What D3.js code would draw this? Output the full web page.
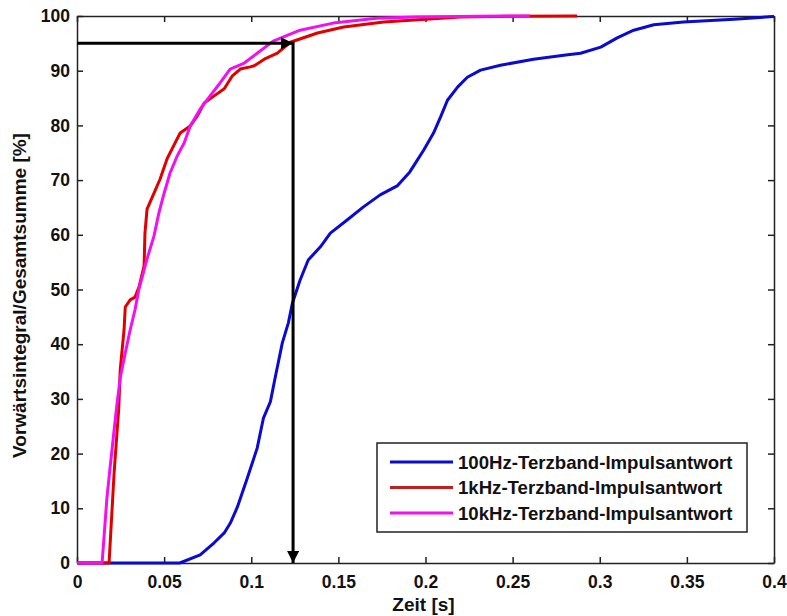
<!DOCTYPE html>
<html>
<head>
<meta charset="utf-8">
<script src="https://cdn.jsdelivr.net/npm/d3@7"></script>
<style>
    body { margin: 0; background: #fff; }
    #chart-area { width: 787px; height: 616px; }
    .axis text { font-family: "Liberation Sans", Arial, sans-serif; font-weight: bold; font-size: 17.5px; fill: #111; }
    .axis-label { font-family: "Liberation Sans", Arial, sans-serif; font-weight: bold; font-size: 19px; fill: #111; }
    .legend text { font-family: "Liberation Sans", Arial, sans-serif; font-weight: bold; font-size: 18.6px; fill: #111; }
</style>
</head>
<body>
<div id="chart-area"></div>
<script>

// x values (Zeit in s) and y values (% of total) per series
var blueTime = [0, 0.059, 0.0707, 0.0787, 0.0845, 0.088, 0.092, 0.0977, 0.1034, 0.107, 0.111, 0.1138, 0.1178, 0.1213,
    0.1236, 0.128, 0.1327, 0.1397, 0.1454, 0.155, 0.1644, 0.174, 0.184, 0.191, 0.1954, 0.199, 0.2046, 0.2086, 0.2126,
    0.2184, 0.224, 0.2316, 0.243, 0.262, 0.2816, 0.289, 0.3006, 0.31, 0.3195, 0.331, 0.348, 0.377, 0.4];
var blueValue = [0, 0, 1.5, 3.7, 5.5, 7.3, 10.2, 15.5, 21, 26.5, 29.5, 34, 40.2, 43.9,
    47.5, 51.7, 55.4, 57.8, 60.3, 62.7, 65.1, 67.3, 69, 71.5, 73.7, 75.5, 78.6, 81.5, 84.6,
    87, 88.8, 90.1, 91, 92.1, 92.9, 93.2, 94.3, 96, 97.4, 98.4, 98.9, 99.4, 99.9];

var redTime = [0, 0.0184, 0.0213, 0.024, 0.0248, 0.027, 0.0277, 0.0305, 0.0333, 0.0356, 0.0385, 0.039, 0.0402,
    0.0442, 0.0477, 0.0517, 0.0563, 0.0592, 0.065, 0.069, 0.073, 0.0787, 0.0845, 0.089, 0.0937, 0.0994, 0.1017,
    0.1075, 0.115, 0.1224, 0.138, 0.153, 0.176, 0.2046, 0.22, 0.25, 0.287];
var redValue = [0, 0, 16.5, 28.5, 35.3, 42.6, 46.8, 48.1, 48.6, 50.5, 54.3, 60.3, 64.7,
    67.6, 70.2, 73.9, 76.8, 78.6, 79.9, 81.7, 84.1, 85.4, 86.7, 89, 90.3, 90.7, 90.9,
    92.1, 93.2, 95.2, 96.9, 98, 98.9, 99.5, 99.8, 99.95, 100];

var magentaTime = [0, 0.0144, 0.0155, 0.0172, 0.019, 0.0213, 0.023, 0.0249, 0.0277, 0.0305, 0.0333, 0.0355,
    0.0402, 0.0442, 0.047, 0.05, 0.0534, 0.0575, 0.0615, 0.065, 0.0707, 0.0764, 0.0822, 0.0879, 0.096, 0.1034,
    0.1126, 0.128, 0.147, 0.172, 0.195, 0.23, 0.26];
var magentaValue = [0, 0, 4.7, 12, 17.5, 24.3, 29.2, 34, 38.4, 42.6, 46.3, 50,
    55.6, 59.8, 64, 67.6, 71.3, 74.4, 76.8, 79.9, 83, 85.4, 87.8, 90.3, 91.4, 93.2,
    95.4, 97.4, 98.7, 99.6, 99.8, 99.95, 100];

var seriesNames = ["100Hz-Terzband-Impulsantwort", "1kHz-Terzband-Impulsantwort", "10kHz-Terzband-Impulsantwort"];
var seriesColors = ["#0a0ad0", "#e00000", "#f010f0"];
var legendColors = ["#0a0ad0", "#c02020", "#f010f0"];

var xTicks = [0, 0.05, 0.1, 0.15, 0.2, 0.25, 0.3, 0.35, 0.4];
var yTicks = [0, 10, 20, 30, 40, 50, 60, 70, 80, 90, 100];

// arrow marking the 95 % point
var markTime = 0.124;
var markValue = 95;


ChartVis = function(_parentElement) {
    this.parentElement = _parentElement;
    this.displayData = [];

    this.initVis();
};

/* INITIALIZE VISUALIZATION */
ChartVis.prototype.initVis = function() {
    var vis = this;

    vis.margin = { top: 16, right: 13, bottom: 53, left: 77 };

    vis.width = 787 - vis.margin.left - vis.margin.right,
        vis.height = 616 - vis.margin.top - vis.margin.bottom;

    vis.svg = d3.select("#" + vis.parentElement).append("svg")
        .attr("width", 787)
        .attr("height", 616)
        .append("g")
        .attr("transform", "translate(" + vis.margin.left + "," + vis.margin.top + ")");

    // Scales
    vis.x = d3.scaleLinear()
        .domain([0, 0.4])
        .range([0, vis.width]);

    vis.y = d3.scaleLinear()
        .domain([0, 100])
        .range([vis.height, 0]);

    var fmtX = function(d) { return d === 0 ? "0" : String(+d.toFixed(2)); };

    // Axes, ticks pointing inwards on all four sides
    vis.svg.append("g")
        .attr("class", "axis x-axis")
        .attr("transform", "translate(0," + vis.height + ")")
        .call(d3.axisBottom(vis.x).tickValues(xTicks).tickFormat(fmtX).tickSizeInner(-6).tickSizeOuter(0).tickPadding(13));

    vis.svg.append("g")
        .attr("class", "axis x-axis-top")
        .call(d3.axisTop(vis.x).tickValues(xTicks).tickFormat("").tickSizeInner(-6).tickSizeOuter(0));

    vis.svg.append("g")
        .attr("class", "axis y-axis")
        .call(d3.axisLeft(vis.y).tickValues(yTicks).tickSizeInner(-6).tickSizeOuter(0).tickPadding(7));

    vis.svg.append("g")
        .attr("class", "axis y-axis-right")
        .attr("transform", "translate(" + vis.width + ",0)")
        .call(d3.axisRight(vis.y).tickValues(yTicks).tickFormat("").tickSizeInner(-6).tickSizeOuter(0));

    vis.svg.selectAll(".axis path, .axis line")
        .attr("stroke", "#222")
        .attr("stroke-width", 1.5);

    // Axis labels
    vis.svg.append("text")
        .attr("class", "axis-label")
        .attr("x", vis.width / 2 - 2)
        .attr("y", vis.height + 48)
        .attr("text-anchor", "middle")
        .text("Zeit [s]");

    vis.svg.append("text")
        .attr("class", "axis-label")
        .attr("transform", "translate(-51," + (vis.height / 2 + 6) + ") rotate(-90)")
        .attr("text-anchor", "middle")
        .text("Vorwärtsintegral/Gesamtsumme [%]");

    // Line generator
    vis.line = d3.line()
        .x(function(d) { return vis.x(d.t); })
        .y(function(d) { return vis.y(d.v); });

    vis.lineGroup = vis.svg.append("g").attr("class", "lines");

    // Arrow markers
    var defs = d3.select("#" + vis.parentElement).select("svg").append("defs");
    defs.append("marker")
        .attr("id", "arrowhead")
        .attr("viewBox", "0 0 10 10")
        .attr("refX", 10)
        .attr("refY", 5)
        .attr("markerUnits", "userSpaceOnUse")
        .attr("markerWidth", 16)
        .attr("markerHeight", 12)
        .attr("orient", "auto")
        .append("path")
        .attr("d", "M0,0 L10,5 L0,10 Z")
        .attr("fill", "#000");

    vis.arrowGroup = vis.svg.append("g").attr("class", "arrows");
    vis.legendGroup = vis.svg.append("g").attr("class", "legend");

    vis.wrangleData();
};

ChartVis.prototype.wrangleData = function() {
    var vis = this;

    var zip = function(ts, vs) {
        return ts.map(function(t, i) { return { t: t, v: vs[i] }; });
    };

    vis.displayData = [
        zip(blueTime, blueValue),
        zip(redTime, redValue),
        zip(magentaTime, magentaValue)
    ];

    vis.updateVis();
};

ChartVis.prototype.updateVis = function() {
    var vis = this;

    vis.lineGroup.selectAll("path")
        .data(vis.displayData)
        .enter().append("path")
        .attr("d", vis.line)
        .attr("fill", "none")
        .attr("stroke", function(d, i) { return seriesColors[i]; })
        .attr("stroke-width", 3)
        .attr("stroke-linejoin", "round");

    // 95 % arrows
    vis.arrowGroup.append("line")
        .attr("x1", vis.x(0))
        .attr("y1", vis.y(markValue))
        .attr("x2", vis.x(markTime))
        .attr("y2", vis.y(markValue))
        .attr("stroke", "#000")
        .attr("stroke-width", 3)
        .attr("marker-end", "url(#arrowhead)");

    vis.arrowGroup.append("line")
        .attr("x1", vis.x(markTime))
        .attr("y1", vis.y(markValue) - 1.5)
        .attr("x2", vis.x(markTime))
        .attr("y2", vis.y(0))
        .attr("stroke", "#000")
        .attr("stroke-width", 3)
        .attr("marker-end", "url(#arrowhead)");

    // Legend
    var lx = 300, ly = 427, lw = 370, lh = 89;
    vis.legendGroup.append("rect")
        .attr("x", lx)
        .attr("y", ly)
        .attr("width", lw)
        .attr("height", lh)
        .attr("fill", "#fff")
        .attr("stroke", "#222")
        .attr("stroke-width", 1.5);

    var items = vis.legendGroup.selectAll(".legend-item")
        .data(seriesNames)
        .enter().append("g")
        .attr("class", "legend-item")
        .attr("transform", function(d, i) { return "translate(" + (lx + 13) + "," + (ly + 19 + i * 25.5) + ")"; });

    items.append("line")
        .attr("x1", 0)
        .attr("x2", 63)
        .attr("stroke", function(d, i) { return legendColors[i]; })
        .attr("stroke-width", 3);

    items.append("text")
        .attr("x", 68)
        .attr("y", 6.5)
        .text(function(d) { return d; });
};

new ChartVis("chart-area");

</script>
</body>
</html>
